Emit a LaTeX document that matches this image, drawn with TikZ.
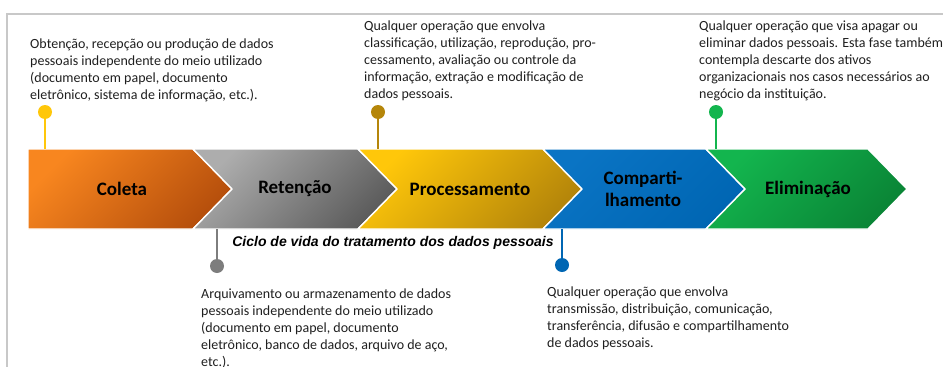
\documentclass[tikz,border=0pt]{standalone}
\usepackage{fontspec}
\setmainfont{Carlito}
\newfontfamily\arialfont{Liberation Sans}

\definecolor{orangeA}{HTML}{F8861F}
\definecolor{orangeB}{HTML}{B64F0C}
\definecolor{grayA}{HTML}{ADADAD}
\definecolor{grayB}{HTML}{5C5C5C}
\definecolor{goldA}{HTML}{FFC70A}
\definecolor{goldB}{HTML}{B5860A}
\definecolor{blueA}{HTML}{0A74C4}
\definecolor{blueB}{HTML}{0066B3}
\definecolor{greenA}{HTML}{13B54E}
\definecolor{greenB}{HTML}{0A8536}
\definecolor{framegray}{HTML}{C8C8C8}

\tikzstyle{chev}=[draw=white, line width=1.4pt, line join=miter, shading angle=45]
\tikzstyle{phase}=[inner sep=0pt, minimum height=80pt, align=center,
  font=\fontsize{19}{22}\selectfont\bfseries, text=black]
\tikzstyle{desc}=[anchor=north west, inner sep=0pt, align=left,
  font=\fontsize{14}{17}\selectfont, text=black!88]
\tikzstyle{dot}=[circle, minimum size=14pt, inner sep=0pt]
\tikzstyle{stem}=[line width=2pt]

\begin{document}
\begin{tikzpicture}[x=1pt, y=-1pt]
\useasboundingbox (0,0) rectangle (943,367);

% frame
\draw[framegray, line width=1.5pt] (7,367) -- (7,14) -- (943,14);

% chevrons
\path[top color=orangeA, bottom color=orangeB, chev]
  (28,149) -- (193,149) -- (232,189) -- (193,229) -- (28,229) -- cycle;
\path[top color=grayA, bottom color=grayB, chev]
  (193,149) -- (358,149) -- (397,189) -- (358,229) -- (193,229) -- (232,189) -- cycle;
\path[top color=goldA, bottom color=goldB, chev]
  (358,149) -- (543,149) -- (582,189) -- (543,229) -- (358,229) -- (397,189) -- cycle;
\path[top color=blueA, bottom color=blueB, chev]
  (543,149) -- (706,149) -- (745,189) -- (706,229) -- (543,229) -- (582,189) -- cycle;
\path[top color=greenA, bottom color=greenB, chev]
  (706,149) -- (868,149) -- (907,189) -- (868,229) -- (706,229) -- (745,189) -- cycle;

\node[phase] (coleta) at (122,189) {Coleta};
\node[phase] (retencao) at (295,189) {Retenção};
\node[phase] (processamento) at (470,189) {Processamento};
\node[phase] (compartilhamento) at (643,189) {Comparti-\\lhamento};
\node[phase] (eliminacao) at (808,189) {Eliminação};

\node[anchor=base, inner sep=0pt, font=\arialfont\fontsize{14}{16}\selectfont\bfseries\itshape]
  (ciclo) at (393,246) {Ciclo de vida do tratamento dos dados pessoais};

% pins
\node[dot, fill=goldA] (dColeta) at (45,112) {};
\node[dot, fill=grayB!80] (dRetencao) at (217,266) {};
\node[dot, fill=goldB] (dProc) at (378,112) {};
\node[dot, fill=blueB] (dCompart) at (562,265) {};
\node[dot, fill=greenA] (dElim) at (716,112) {};

\draw[stem, goldA] (dColeta) -- (dColeta |- coleta.north);
\draw[stem, grayB!80] (dRetencao) -- (dRetencao |- retencao.south);
\draw[stem, goldB] (dProc) -- (dProc |- processamento.north);
\draw[stem, blueB] (dCompart) -- (dCompart |- compartilhamento.south);
\draw[stem, greenA] (dElim) -- (dElim |- eliminacao.north);

% descriptions
\node[desc] (tColeta) at (30,38.5) {Obtenção, recepção ou produção de dados\\
  pessoais independente do meio utilizado\\
  (documento em papel, documento\\
  eletrônico, sistema de informação, etc.).};
\node[desc] (tRetencao) at (201,288.5) {Arquivamento ou armazenamento de dados\\
  pessoais independente do meio utilizado\\
  (documento em papel, documento\\
  eletrônico, banco de dados, arquivo de aço,\\
  etc.).};
\node[desc] (tProc) at (364,20.5) {Qualquer operação que envolva\\
  classificação, utilização, reprodução, pro-\\
  cessamento, avaliação ou controle da\\
  informação, extração e modificação de\\
  dados pessoais.};
\node[desc] (tCompart) at (547,286.5) {Qualquer operação que envolva\\
  transmissão, distribuição, comunicação,\\
  transferência, difusão e compartilhamento\\
  de dados pessoais.};
\node[desc] (tElim) at (699,20.5) {Qualquer operação que visa apagar ou\\
  eliminar dados pessoais. Esta fase também\\
  contempla descarte dos ativos\\
  organizacionais nos casos necessários ao\\
  negócio da instituição.};
\end{tikzpicture}
\end{document}
